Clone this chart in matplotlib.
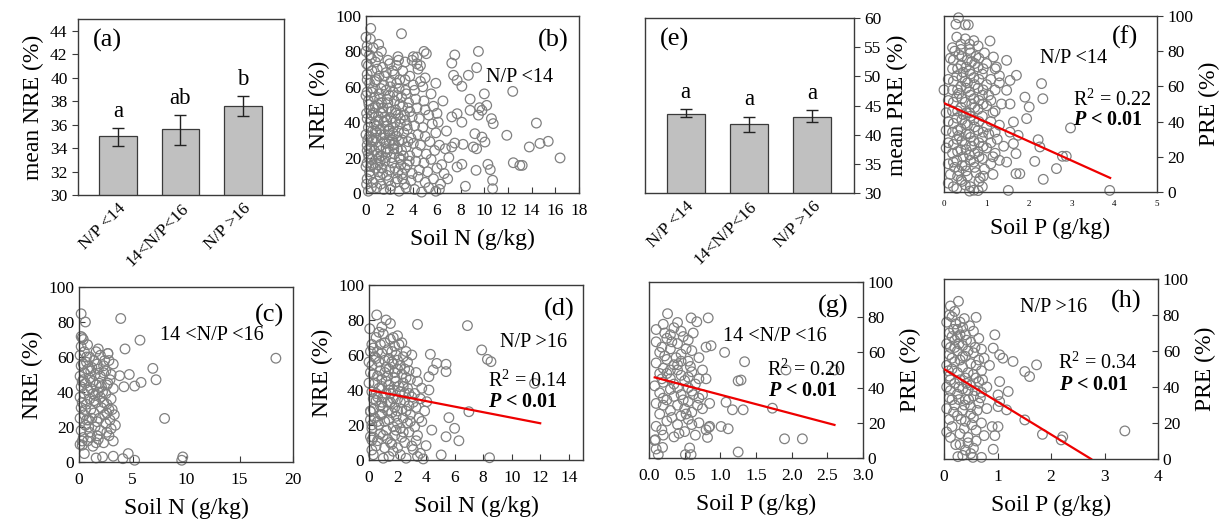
import numpy as np
import matplotlib
matplotlib.use("Agg")
import matplotlib.pyplot as plt

plt.rcParams['font.family'] = ['Liberation Serif', 'DejaVu Serif']
plt.rcParams['mathtext.fontset'] = 'custom'
plt.rcParams['mathtext.rm'] = 'Liberation Serif'
plt.rcParams['mathtext.it'] = 'Liberation Serif:italic'
plt.rcParams['mathtext.bf'] = 'Liberation Serif:bold'
plt.rcParams['mathtext.bfit'] = 'Liberation Serif:italic:bold'

# ---- bar panels (a) and (e) ----
groups = ['N/P <14', '14<N/P<16', 'N/P >16']
nre_mean = [35.0, 35.6, 37.55]
nre_lo = [34.2, 34.3, 36.7]
nre_hi = [35.7, 36.8, 38.4]
nre_letters = ['a', 'ab', 'b']
pre_mean = [43.6, 41.8, 43.1]
pre_lo = [43.0, 40.5, 42.2]
pre_hi = [44.4, 43.1, 44.2]
pre_letters = ['a', 'a', 'a']

# ---- scatter panels: (soil, efficiency) pairs ----
panel_b = np.array([
    [0.2, 1], [0.9, 3], [1.5, 2], [2.1, 4], [2.8, 1], [3.4, 3], [4.1, 2], [4.7, 0.5], [5.3, 3], [5.9, 1], [6.2, 2],
    [0.1, 8], [0.6, 6], [1.2, 9], [1.9, 7], [2.5, 6], [3.1, 8], [3.8, 7], [4.4, 9], [5.0, 6], [5.7, 8], [6.3, 5],
    [0.3, 12], [0.8, 14], [1.4, 11], [2.0, 13], [2.7, 12], [3.3, 14], [3.9, 11], [4.5, 13], [5.2, 12], [6.0, 14], [6.6, 11],
    [0.1, 17], [0.5, 19], [1.0, 16], [1.6, 18], [2.2, 17], [2.9, 19], [3.5, 16], [4.2, 18], [4.9, 17], [5.5, 19], [6.4, 16],
    [0.2, 22], [0.7, 24], [1.3, 21], [1.8, 23], [2.4, 22], [3.0, 24], [3.7, 21], [4.3, 23], [5.1, 22], [5.8, 24],
    [0.1, 27], [0.6, 29], [1.1, 26], [1.7, 28], [2.3, 27], [2.8, 29], [3.4, 26], [4.0, 28], [4.6, 27], [5.4, 29], [6.2, 27], [6.7, 25],
    [0.3, 32], [0.9, 34], [1.4, 31], [2.0, 33], [2.6, 32], [3.2, 34], [3.8, 31], [4.4, 33], [5.0, 32], [5.9, 34],
    [0.2, 37], [0.7, 39], [1.2, 36], [1.8, 38], [2.3, 37], [2.9, 39], [3.5, 36], [4.1, 38], [4.8, 37], [5.6, 39], [6.1, 40],
    [0.1, 42], [0.5, 44], [1.0, 41], [1.6, 43], [2.1, 42], [2.7, 44], [3.3, 41], [3.9, 43], [4.5, 42], [5.3, 44], [6.0, 45],
    [0.3, 47], [0.8, 49], [1.4, 46], [1.9, 48], [2.5, 47], [3.1, 49], [3.7, 46], [4.3, 48], [5.0, 47], [5.7, 49],
    [0.2, 52], [0.7, 54], [1.3, 51], [1.8, 53], [2.4, 52], [3.0, 54], [3.6, 51], [4.2, 53], [4.9, 52], [5.5, 56],
    [0.1, 57], [0.6, 59], [1.1, 56], [1.7, 58], [2.3, 57], [2.8, 59], [3.4, 56], [4.1, 58], [4.8, 60], [5.9, 62],
    [0.3, 62], [0.9, 64], [1.5, 61], [2.1, 63], [2.6, 62], [3.3, 64], [4.0, 61], [4.6, 63],
    [0.1, 67], [0.5, 69], [1.1, 66], [1.7, 68], [2.4, 67], [3.1, 69], [3.7, 66], [4.4, 70], [5.0, 65],
    [0.2, 72], [0.8, 74], [1.4, 71], [2.0, 73], [2.6, 72], [3.3, 74], [3.9, 75], [4.6, 72],
    [0.3, 78], [0.6, 82], [1.0, 77], [1.3, 80], [4.0, 77], [4.9, 80], [2.7, 77],
    [0.0, 88], [0.4, 93], [0.37, 87], [1.07, 84], [3.0, 90], [0.1, 83],
    [0.4, 15], [1.1, 20], [1.7, 25], [2.2, 30], [0.8, 35], [1.5, 40], [2.5, 45], [1.0, 50], [0.5, 30], [1.9, 35],
    [2.8, 20], [1.3, 45], [0.3, 25], [2.0, 55], [1.6, 33], [0.9, 38], [2.4, 28], [1.2, 18], [2.9, 42], [0.6, 48],
    [0.05, 5], [0.0, 15], [0.1, 24], [0.0, 33], [0.05, 45], [0.0, 55], [0.1, 64], [0.05, 73], [0.0, 80],
    [0.45, 3], [1.25, 5], [2.05, 2], [2.65, 8], [3.25, 5], [0.35, 10], [1.05, 12], [1.75, 10], [2.45, 14], [3.05, 11],
    [0.55, 16], [1.35, 14], [2.15, 20], [2.95, 16], [3.65, 18], [0.25, 20], [0.95, 22], [1.65, 20], [2.35, 25], [3.15, 21],
    [0.45, 26], [1.25, 24], [1.95, 29], [2.65, 25], [3.55, 29], [0.15, 30], [0.85, 31], [1.55, 29], [2.25, 34], [3.05, 30],
    [0.55, 35], [1.25, 33], [1.95, 36], [2.75, 35], [3.45, 38], [0.35, 40], [1.05, 43], [1.75, 41], [2.45, 40], [3.25, 44],
    [0.65, 45], [1.45, 48], [2.15, 46], [2.85, 50], [3.55, 48], [0.25, 50], [1.15, 53], [1.85, 51], [2.65, 55], [3.35, 58],
    [0.45, 57], [1.25, 59], [2.05, 60], [2.85, 64], [0.75, 63], [1.55, 66], [2.25, 69], [0.95, 70], [1.85, 75], [0.45, 76],
    [5.1, 78.7], [4.3, 76.8], [2.75, 75], [4.3, 73], [7.5, 78], [9.5, 80], [7.25, 73.4], [9.35, 70.8],
    [8.65, 66.5], [7.4, 66.5], [7.7, 63.7], [8.1, 60.3], [8.8, 53], [10.0, 56], [12.4, 57.4],
    [9.6, 48.2], [9.8, 46.7], [9.5, 44], [8.8, 46.7], [7.7, 44.8], [8.1, 40], [7.25, 43],
    [10.6, 42], [10.75, 39.2], [10.2, 49.5], [11.9, 32.6], [14.4, 39.5], [9.8, 31.6], [10.05, 28.8],
    [9.2, 33.5], [9.07, 26], [9.35, 25], [8.2, 27.5], [7.5, 28.2], [7.25, 26],
    [13.8, 26], [14.7, 28], [15.4, 29.2], [16.4, 19.8], [12.45, 17.1], [13.0, 15.6], [13.2, 15.6],
    [10.3, 16.2], [10.5, 13.2], [9.3, 12.8], [8.1, 16.2], [7.7, 14.7], [10.7, 7.2], [10.7, 2.4], [8.4, 3.8],
    [6.8, 35], [6.5, 52], [7.0, 20], [6.9, 8],
])

panel_c = np.array([
    [0.1, 10], [0.4, 14], [0.8, 12], [1.3, 9], [1.8, 13], [2.3, 11], [2.8, 15], [3.2, 12],
    [0.2, 18], [0.6, 21], [1.0, 17], [1.5, 20], [2.0, 18], [2.5, 22], [3.0, 19], [3.4, 21],
    [0.1, 25], [0.5, 27], [0.9, 24], [1.4, 28], [1.9, 25], [2.4, 27], [2.9, 24], [3.3, 27],
    [0.2, 31], [0.7, 33], [1.1, 30], [1.6, 34], [2.1, 31], [2.6, 33], [3.1, 30],
    [0.1, 37], [0.5, 39], [1.0, 36], [1.5, 38], [2.0, 37], [2.5, 39], [3.0, 36],
    [0.2, 43], [0.6, 45], [1.1, 42], [1.6, 44], [2.1, 43], [2.7, 45], [3.2, 42],
    [0.1, 49], [0.5, 51], [1.0, 48], [1.5, 50], [2.0, 49], [2.5, 52], [3.0, 50],
    [0.2, 55], [0.7, 57], [1.2, 54], [1.7, 56], [2.3, 55], [2.8, 58], [3.2, 56],
    [0.1, 61], [0.5, 63], [1.0, 60], [2.0, 61], [2.7, 62],
    [0.2, 66], [0.4, 70], [0.8, 67], [0.3, 71],
    [0.9, 20], [1.4, 35], [1.9, 45], [0.6, 30], [1.2, 25], [2.2, 40], [1.7, 15], [0.4, 47], [2.6, 28], [1.1, 52],
    [0.3, 12], [1.1, 14], [1.6, 11], [2.6, 17], [0.7, 24], [1.7, 23], [2.8, 30], [0.3, 34], [1.3, 39], [2.3, 34],
    [0.8, 41], [1.8, 40], [2.9, 47], [0.3, 46], [1.3, 46], [2.3, 51], [0.8, 53], [1.8, 53], [1.4, 58], [0.7, 60],
    [1.6, 63], [2.4, 58], [0.4, 56], [2.6, 44],
    [0.2, 84.7], [0.6, 80], [3.9, 82], [0.2, 71.7], [5.7, 69.6], [4.3, 64.6], [1.8, 64.6], [2.7, 62],
    [6.9, 53.5], [7.2, 47], [5.8, 45.5], [5.2, 43.4], [4.2, 43], [4.7, 50], [3.8, 49.3],
    [8.0, 24.9], [18.4, 59.3], [9.7, 2.9], [9.6, 1], [5.2, 1], [4.6, 4.8], [4.1, 1.9],
    [3.2, 3.3], [2.2, 2.9], [1.6, 2.3], [0.3, 9.6], [0.5, 4.8],
])

panel_d = np.array([
    [0.3, 3], [1.0, 1], [1.4, 2], [1.7, 5], [2.2, 3], [2.6, 1], [3.1, 6], [3.4, 2],
    [0.5, 8], [1.1, 7], [1.6, 9], [2.0, 7], [2.5, 10], [3.0, 8], [3.3, 11],
    [0.3, 13], [0.8, 15], [1.3, 12], [1.8, 14], [2.3, 13], [2.8, 16], [3.4, 14],
    [0.2, 18], [0.7, 20], [1.2, 17], [1.7, 19], [2.2, 18], [2.7, 21], [3.2, 19], [3.7, 22],
    [0.4, 24], [0.9, 26], [1.4, 23], [1.9, 25], [2.4, 24], [2.9, 26], [3.5, 24],
    [0.3, 29], [0.8, 31], [1.3, 28], [1.8, 30], [2.3, 29], [2.8, 31], [3.3, 30], [3.9, 28],
    [0.5, 34], [1.0, 36], [1.5, 33], [2.0, 35], [2.5, 34], [3.0, 36], [3.6, 35],
    [0.2, 39], [0.7, 41], [1.2, 38], [1.7, 40], [2.2, 39], [2.7, 41], [3.2, 38],
    [0.4, 44], [0.9, 46], [1.4, 43], [1.9, 45], [2.4, 44], [2.9, 46], [3.4, 45],
    [0.3, 49], [0.8, 51], [1.3, 48], [1.8, 50], [2.3, 49], [2.8, 51], [3.3, 50],
    [0.2, 54], [0.7, 56], [1.2, 53], [1.7, 55], [2.2, 54], [2.7, 56],
    [0.4, 59], [0.9, 61], [1.4, 58], [1.9, 60], [2.4, 59], [3.0, 60],
    [0.3, 64], [0.8, 66], [1.3, 63], [1.8, 65], [2.3, 67], [2.6, 62],
    [0.5, 70], [1.0, 72], [1.5, 69], [2.0, 71], [0.9, 76], [1.5, 78], [1.2, 80], [2.1, 66],
    [1.0, 30], [1.5, 38], [2.0, 28], [1.2, 45], [1.7, 35], [2.5, 38], [0.6, 36], [1.4, 52], [2.1, 42], [1.1, 22],
    [0.6, 11], [1.5, 10], [2.4, 16], [1.0, 14], [2.0, 21], [0.6, 22], [1.6, 27], [2.6, 28], [0.9, 33], [2.2, 33],
    [3.1, 33], [0.5, 38], [1.4, 40], [2.4, 42], [0.9, 42], [1.8, 47], [2.6, 47], [0.6, 48], [1.1, 50], [2.0, 52],
    [1.6, 56], [0.5, 58], [1.1, 57], [2.0, 57], [1.6, 62], [0.6, 62], [1.1, 67], [1.7, 70], [0.7, 73], [2.5, 52],
    [1.3, 33], [0.3, 35], [2.8, 38], [0.8, 26], [1.9, 17], [2.9, 22],
    [0.1, 23], [0.1, 28], [0.0, 44], [0.1, 50], [0.0, 56], [0.1, 62], [0.05, 75], [0.2, 66],
    [0.54, 82.9], [3.4, 77.5], [6.9, 76.8], [7.9, 62.9], [8.3, 57.5], [8.55, 56.2], [11.6, 43.8],
    [7.0, 27.6], [5.6, 24.2], [6.0, 18.1], [5.4, 13.3], [6.3, 11], [8.45, 1.3], [5.06, 2.9],
    [4.4, 17.1], [4.0, 8.2], [3.8, 0.6], [3.6, 3.8],
    [4.3, 60.4], [4.75, 55.2], [5.4, 54.7], [5.4, 50.5], [4.5, 51.4], [4.2, 47.6], [4.2, 40], [3.7, 41], [4.05, 33.3],
    [0.2, 5.7], [0.2, 11.4], [0.1, 13.3], [0.2, 20], [0.1, 27.6],
])

panel_f = np.array([
    [0.1, 5], [0.3, 2], [0.5, 4], [0.7, 1], [0.9, 3], [0.6, 0.5], [0.8, 0.8], [0.4, 7],
    [0.15, 10], [0.35, 12], [0.55, 9], [0.75, 11], [0.95, 13], [1.15, 10],
    [0.1, 16], [0.3, 18], [0.5, 15], [0.7, 17], [0.9, 19], [1.1, 16], [1.3, 18],
    [0.2, 22], [0.4, 24], [0.6, 21], [0.8, 23], [1.0, 25], [1.2, 22],
    [0.1, 28], [0.3, 30], [0.5, 27], [0.7, 29], [0.9, 31], [1.1, 28], [1.4, 26],
    [0.2, 34], [0.4, 36], [0.6, 33], [0.8, 35], [1.0, 37], [1.2, 34],
    [0.1, 40], [0.3, 42], [0.5, 39], [0.7, 41], [0.9, 43], [1.1, 40], [1.3, 38],
    [0.2, 46], [0.4, 48], [0.6, 45], [0.8, 47], [1.0, 49], [1.2, 46],
    [0.1, 52], [0.3, 54], [0.5, 51], [0.7, 53], [0.9, 55], [1.1, 52], [1.35, 50],
    [0.2, 58], [0.4, 60], [0.6, 57], [0.8, 59], [1.0, 61], [1.2, 58],
    [0.1, 64], [0.3, 66], [0.5, 63], [0.7, 65], [0.9, 67], [1.1, 64], [1.3, 62],
    [0.2, 70], [0.4, 72], [0.6, 69], [0.8, 71], [1.0, 73], [1.2, 70],
    [0.15, 76], [0.35, 78], [0.55, 75], [0.75, 77], [0.95, 79],
    [0.2, 82], [0.4, 84], [0.6, 81], [0.8, 83], [0.3, 88], [0.5, 87], [0.7, 86],
    [0.25, 14], [0.45, 20], [0.65, 26], [0.35, 32], [0.55, 38], [0.45, 44], [0.65, 50], [0.35, 56],
    [0.55, 62], [0.45, 68], [0.65, 74], [0.25, 80], [0.85, 8], [0.05, 45], [0.05, 35], [0.05, 25], [0.0, 58],
    [0.22, 3], [0.42, 6], [0.62, 3], [0.82, 6], [0.32, 9], [0.52, 12], [0.72, 14], [0.92, 9], [0.22, 17], [0.42, 15],
    [0.62, 18], [0.82, 20], [0.32, 23], [0.52, 24], [0.72, 22], [0.92, 26], [0.22, 27], [0.42, 29], [0.62, 31], [0.82, 28],
    [0.32, 35], [0.52, 33], [0.72, 37], [0.92, 34], [0.22, 39], [0.42, 41], [0.62, 43], [0.82, 40], [0.32, 46], [0.52, 45],
    [0.72, 48], [0.92, 50], [0.22, 51], [0.42, 53], [0.62, 55], [0.82, 52], [0.32, 58], [0.52, 59], [0.72, 61], [0.92, 58],
    [0.22, 63], [0.42, 65], [0.62, 67], [0.82, 64], [0.32, 70], [0.52, 71], [0.72, 73], [0.92, 70], [0.22, 75], [0.42, 77],
    [0.62, 79], [0.82, 76], [0.4, 81], [0.6, 84], [1.05, 55], [1.15, 45], [1.05, 33], [1.15, 20], [1.25, 30], [1.3, 66],
    [0.34, 99], [0.5, 95], [0.57, 95], [0.28, 95.3], [1.08, 85.8],
    [2.29, 61.6], [2.32, 53], [1.94, 41.7], [2.0, 48.3], [1.9, 53.9],
    [2.97, 36.4], [2.21, 29.7], [2.25, 25.6], [2.78, 20.3], [2.87, 20.3],
    [2.64, 13.3], [2.33, 7.2], [2.13, 17.4], [1.78, 10.4], [1.69, 10.4], [1.51, 0.9], [3.89, 0.9],
    [1.63, 27.5], [1.69, 21.8], [1.74, 32.2], [1.47, 17], [1.55, 34], [1.63, 39.8], [1.55, 50],
    [1.47, 57.8], [1.55, 63.4], [1.7, 66.3], [1.23, 71], [1.47, 74.8], [1.16, 76.7],
])

panel_g = np.array([
    [0.08, 10], [0.2, 13], [0.35, 12], [0.5, 15], [0.65, 13], [0.8, 16],
    [0.1, 18], [0.25, 21], [0.4, 19], [0.55, 22], [0.7, 20], [0.85, 18],
    [0.15, 25], [0.3, 27], [0.45, 24], [0.6, 26], [0.75, 28],
    [0.1, 31], [0.25, 33], [0.4, 30], [0.55, 32], [0.7, 34], [0.85, 31],
    [0.15, 37], [0.3, 39], [0.45, 36], [0.6, 38], [0.75, 36],
    [0.08, 41], [0.2, 43], [0.35, 42], [0.5, 44], [0.65, 42], [0.8, 45],
    [0.15, 48], [0.3, 50], [0.45, 47], [0.6, 49], [0.75, 50],
    [0.1, 54], [0.25, 56], [0.4, 53], [0.55, 55], [0.7, 57],
    [0.15, 60], [0.3, 62], [0.45, 59], [0.6, 61], [0.8, 63],
    [0.1, 66], [0.25, 68], [0.4, 65], [0.55, 67],
    [0.1, 73], [0.2, 76], [0.35, 74], [0.45, 72], [0.4, 77], [0.3, 70],
    [0.3, 45], [0.4, 50], [0.35, 35], [0.5, 28], [0.25, 48], [0.45, 55], [0.55, 40], [0.2, 30],
    [0.18, 16], [0.42, 14], [0.6, 19], [0.32, 23], [0.52, 25], [0.68, 30], [0.2, 34], [0.48, 33], [0.62, 36], [0.4, 40],
    [0.18, 45], [0.55, 46], [0.7, 45], [0.2, 51], [0.35, 53], [0.58, 52], [0.22, 58], [0.38, 57], [0.52, 62], [0.18, 63],
    [0.32, 66], [0.48, 69], [0.62, 71], [0.22, 71],
    [0.26, 82], [0.59, 79.6], [0.67, 77.4], [0.83, 79.6],
    [0.87, 63.8], [1.06, 60], [1.34, 54.7], [1.25, 43.8], [1.29, 44.3], [1.08, 31.7],
    [1.17, 27.4], [1.32, 27.4], [1.73, 28.3], [1.01, 17.9], [1.11, 16.6], [1.9, 10.9], [2.15, 10.9],
    [1.25, 3.4], [0.84, 17.4], [0.82, 11.7], [0.57, 5.7], [0.59, 1.9], [0.51, 1.9],
    [0.1, 5.1], [0.13, 1.9], [0.19, 6], [0.09, 10.4], [1.92, 50], [2.6, 50],
])

panel_h = np.array([
    [0.05, 15], [0.15, 18], [0.3, 14], [0.45, 12], [0.6, 16], [0.75, 13],
    [0.1, 22], [0.25, 24], [0.4, 21], [0.55, 23], [0.7, 20],
    [0.05, 28], [0.2, 30], [0.35, 27], [0.5, 29], [0.65, 31], [0.8, 28],
    [0.1, 34], [0.25, 36], [0.4, 33], [0.55, 35], [0.7, 37],
    [0.05, 40], [0.2, 42], [0.35, 39], [0.5, 41], [0.65, 43], [0.8, 40],
    [0.1, 46], [0.25, 48], [0.4, 45], [0.55, 47], [0.7, 49],
    [0.05, 52], [0.2, 54], [0.35, 51], [0.5, 53], [0.65, 55], [0.85, 52],
    [0.1, 58], [0.25, 60], [0.4, 57], [0.55, 59], [0.7, 61],
    [0.05, 64], [0.2, 66], [0.35, 63], [0.5, 65], [0.65, 67],
    [0.1, 70], [0.25, 72], [0.4, 69], [0.55, 71],
    [0.05, 76], [0.15, 79], [0.3, 76], [0.2, 82], [0.1, 80], [0.35, 73],
    [0.3, 8], [0.4, 5], [0.5, 3], [0.45, 9], [0.55, 6], [0.6, 10], [0.35, 2],
    [0.15, 50], [0.3, 44], [0.45, 38], [0.2, 62], [0.35, 57], [0.15, 33], [0.5, 25], [0.25, 68],
    [0.12, 12], [0.22, 8], [0.38, 17], [0.52, 19], [0.18, 26], [0.32, 22], [0.46, 33], [0.62, 27], [0.12, 38], [0.28, 33],
    [0.42, 42], [0.58, 38], [0.12, 44], [0.28, 40], [0.45, 48], [0.6, 45], [0.15, 56], [0.3, 55], [0.45, 60], [0.6, 52],
    [0.12, 62], [0.28, 64], [0.42, 66], [0.58, 62], [0.15, 68], [0.3, 69], [0.48, 74], [0.22, 75], [0.38, 78], [0.12, 85],
    [0.18, 72], [0.68, 34], [0.72, 44], [0.75, 56], [0.08, 49], [0.38, 30],
    [0.27, 87.6], [0.6, 78.7], [0.95, 69], [0.92, 61.6], [1.04, 57.9], [1.1, 56], [1.29, 54.2],
    [1.73, 52.3], [1.51, 48.6], [1.6, 45.8], [1.04, 43], [1.2, 37.5], [1.01, 35.6], [1.04, 31.9],
    [1.01, 29.1], [1.17, 27.3], [1.51, 21.7], [1.84, 13.7], [2.19, 10.6], [2.22, 12.4], [3.38, 15.6],
    [0.9, 18], [1.01, 18], [0.95, 13], [0.92, 5.4], [0.26, 1.3], [0.7, 0.9], [0.54, 0.9],
])

# fitted lines (x start, x end), (y start, y end)
fit_d = ([0.0, 12.0], [40.0, 21.0])
fit_f = ([0.0, 3.9], [50.5, 8.0])
fit_g = ([0.08, 2.6], [45.8, 18.8])
fit_h = ([0.0, 2.75], [50.0, 0.0])

W, H = 1222, 523
fig = plt.figure(figsize=(W / 100, H / 100), dpi=100)

FRAME = '#3a3a3a'
PT = '#808080'
TICK = 12.5


def make_ax(x0, y0, x1, y1):
    ax = fig.add_axes([x0 / W, (H - y1) / H, (x1 - x0) / W, (y1 - y0) / H])
    for s in ax.spines.values():
        s.set_color(FRAME)
        s.set_linewidth(1.0)
    ax.tick_params(colors=FRAME, labelcolor='black', labelsize=TICK, length=4)
    return ax


def bar_panel(ax, means, lo, hi, letters, ylim, yticks, ylabel, tag, right=False):
    x = np.arange(len(groups))
    err = [np.array(means) - np.array(lo), np.array(hi) - np.array(means)]
    ax.bar(x, means, width=0.6, color='#c0c0c0', edgecolor='#3a3a3a', linewidth=0.9,
           yerr=err, error_kw=dict(ecolor='#222222', elinewidth=1.0, capsize=4, capthick=1.0))
    ax.set_xlim(-0.64, 2.66)
    ax.set_ylim(*ylim)
    ax.set_yticks(yticks)
    ax.set_xticks(x)
    ax.set_xticklabels(groups, rotation=45, ha='right', rotation_mode='anchor', fontsize=12.5)
    ax.tick_params(axis='x', length=0, pad=4)
    span = ylim[1] - ylim[0]
    for xi, h, t in zip(x, hi, letters):
        ax.text(xi, h + span * 0.035, t, ha='center', va='bottom', fontsize=16.5)
    ax.text(0.07, 0.88, tag, transform=ax.transAxes, fontsize=19, va='center', ha='left')
    if right:
        ax.yaxis.tick_right()
        ax.yaxis.set_label_position('right')
    ax.set_ylabel(ylabel, fontsize=17)


def scatter_panel(ax, pts, xlim, xticks, xlabel, ylabel, tag, tag_xy, group, group_xy,
                  fit=None, r2=None, r2_xy=None, p_xy=None, right=False, xtick_size=TICK):
    ax.scatter(pts[:, 0], pts[:, 1], s=48, facecolors='none', edgecolors=PT, linewidths=0.9,
               clip_on=False, zorder=2)
    if fit is not None:
        ax.plot(fit[0], fit[1], color='#ee0000', lw=1.6, zorder=3)
    ax.set_xlim(*xlim)
    ax.set_ylim(0, 100)
    ax.set_xticks(xticks)
    ax.set_yticks(np.arange(0, 101, 20))
    ax.tick_params(direction='in')
    ax.tick_params(axis='x', labelsize=xtick_size, pad=7)
    if right:
        ax.yaxis.tick_right()
        ax.yaxis.set_label_position('right')
    ax.set_xlabel(xlabel, fontsize=17, labelpad=7)
    ax.set_ylabel(ylabel, fontsize=17)
    ax.text(tag_xy[0], tag_xy[1], tag, transform=ax.transAxes, fontsize=19, ha='center', va='center', zorder=5)
    ax.text(group_xy[0], group_xy[1], group, transform=ax.transAxes, fontsize=14.5, ha='center', va='center', zorder=5)
    if r2 is not None:
        ax.text(r2_xy[0], r2_xy[1], 'R$^2$ = ' + r2, transform=ax.transAxes, fontsize=14.5,
                ha='center', va='center', zorder=5)
        ax.text(p_xy[0], p_xy[1], r'$\mathbfit{P}$ < 0.01', transform=ax.transAxes, fontsize=14.5,
                fontweight='bold', ha='center', va='center', zorder=5)


# (a)
ax = make_ax(78, 19, 284, 195)
bar_panel(ax, nre_mean, nre_lo, nre_hi, nre_letters, (30, 45), np.arange(30, 45, 2), 'mean NRE (%)', '(a)')

# (b)
ax = make_ax(366, 16, 579, 193)
scatter_panel(ax, panel_b, (0, 18), np.arange(0, 19, 2), 'Soil N (g/kg)', 'NRE (%)',
              '(b)', (0.88, 0.86), 'N/P <14', (0.72, 0.655))

# (e)
ax = make_ax(645, 18, 854, 193)
bar_panel(ax, pre_mean, pre_lo, pre_hi, pre_letters, (30, 60), np.arange(30, 61, 5), 'mean PRE (%)', '(e)',
          right=True)

# (f)
ax = make_ax(944, 16, 1157, 192)
scatter_panel(ax, panel_f, (0, 5), np.arange(0, 6, 1), 'Soil P (g/kg)', 'PRE (%)',
              '(f)', (0.85, 0.88), 'N/P <14', (0.61, 0.76), fit=fit_f, r2='0.22',
              r2_xy=(0.79, 0.52), p_xy=(0.77, 0.41), right=True, xtick_size=6.5)
ax.tick_params(axis='y', direction='out')
ax.tick_params(axis='x', length=0, pad=6)

# (c)
ax = make_ax(79, 287, 293, 462)
scatter_panel(ax, panel_c, (0, 20), np.arange(0, 21, 5), 'Soil N (g/kg)', 'NRE (%)',
              '(c)', (0.89, 0.84), '14 <N/P <16', (0.62, 0.72))

# (d)
ax = make_ax(369, 285, 583, 460)
scatter_panel(ax, panel_d, (0, 15), np.arange(0, 15, 2), 'Soil N (g/kg)', 'NRE (%)',
              '(d)', (0.89, 0.86), 'N/P >16', (0.77, 0.67), fit=fit_d, r2='0.14',
              r2_xy=(0.74, 0.45), p_xy=(0.72, 0.33))

# (g)
ax = make_ax(649, 282, 863, 458)
scatter_panel(ax, panel_g, (0, 3), np.arange(0, 3.01, 0.5), 'Soil P (g/kg)', 'PRE (%)',
              '(g)', (0.86, 0.86), '14 <N/P <16', (0.59, 0.69), fit=fit_g, r2='0.20',
              r2_xy=(0.735, 0.50), p_xy=(0.72, 0.38), right=True)
ax.set_xticklabels(['0.0', '0.5', '1.0', '1.5', '2.0', '2.5', '3.0'])

# (h)
ax = make_ax(944, 279, 1158, 459)
scatter_panel(ax, panel_h, (0, 4), np.arange(0, 5, 1), 'Soil P (g/kg)', 'PRE (%)',
              '(h)', (0.85, 0.876), 'N/P >16', (0.51, 0.84), fit=fit_h, r2='0.34',
              r2_xy=(0.72, 0.53), p_xy=(0.70, 0.41), right=True)

fig.savefig('out.png', dpi=100)
